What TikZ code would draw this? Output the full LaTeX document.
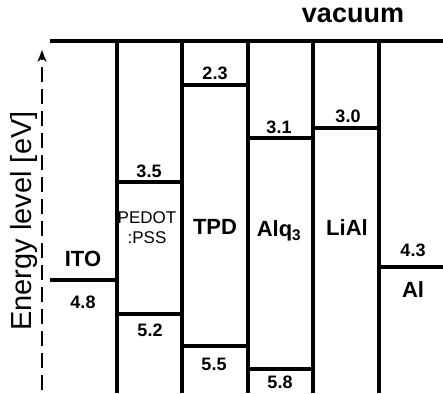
\documentclass[tikz,border=0pt]{standalone}
\usepackage{fontspec}
\setmainfont{Liberation Sans}
\usepackage{tikz}
\usetikzlibrary{arrows.meta}

\begin{document}
\begin{tikzpicture}[x=1pt,y=-1pt,>={Stealth[length=12pt,width=9pt]},
    wall/.style={line width=4pt},
    lvl/.style={line width=3.8pt},
    num/.style={font=\fontsize{18}{18}\selectfont\bfseries},
    lab/.style={font=\fontsize{22}{22}\selectfont\bfseries}]
  \useasboundingbox[fill=white] (0,0) rectangle (443,393);
  % energy axis
  \draw[->,line width=2.6pt,dash pattern=on 15pt off 7pt] (42,390) -- (42,50);
  \node[rotate=90,font=\fontsize{29}{29}\selectfont] (axis) at (24,221) {Energy level [eV]};
  \node[font=\fontsize{27}{27}\selectfont\bfseries] (vac) at (353,15) {vacuum};
  % vacuum level and layer borders
  \draw[wall] (50,41) -- (443,41);
  \foreach \x in {117,182,248,313,379}
    \draw[wall] (\x,41) -- (\x,393);
  % HOMO / LUMO levels
  \draw[lvl] (50,280)  -- (117,280);
  \draw[lvl] (117,182) -- (182,182);
  \draw[lvl] (117,314) -- (182,314);
  \draw[lvl] (182,85)  -- (248,85);
  \draw[lvl] (182,346) -- (248,346);
  \draw[lvl] (248,138) -- (313,138);
  \draw[lvl] (248,369) -- (313,369);
  \draw[lvl] (313,128) -- (379,128);
  \draw[lvl] (379,267) -- (443,267);
  % values
  \node[num] (ito)   at (83,302)  {4.8};
  \node[num] (pedu)  at (149,171) {3.5};
  \node[num] (pedl)  at (150,330) {5.2};
  \node[num] (tpdu)  at (215,73)  {2.3};
  \node[num] (tpdl)  at (214,364) {5.5};
  \node[num] (alqu)  at (279,127) {3.1};
  \node[num] (alql)  at (280,382) {5.8};
  \node[num] (lial)  at (348,116) {3.0};
  \node[num] (alv)   at (413,250) {4.3};
  % layer names
  \node[lab] (nito)  at (83,259)  {ITO};
  \node[align=center,font=\fontsize{17}{20}\selectfont] (nped) at (147,228) {PEDOT\\:PSS};
  \node[lab] (ntpd)  at (215,227) {TPD};
  \node[lab] (nalq)  at (279,231) {Alq\textsubscript{3}};
  \node[lab] (nlial) at (347,228) {LiAl};
  \node[lab] (nal)   at (413,290) {Al};
\end{tikzpicture}
\end{document}
